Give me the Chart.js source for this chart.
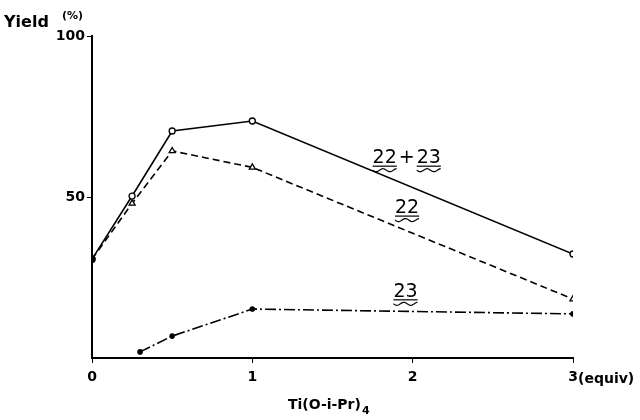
<!DOCTYPE html>
<html>
<head>
<meta charset="utf-8">
<script src="https://cdn.jsdelivr.net/npm/chart.js@4"></script>
<style>
    html, body { margin: 0; padding: 0; background: #fff; }
    #wrap { width: 640px; height: 420px; }
</style>
</head>
<body>
<div id="wrap"><canvas id="chart" width="640" height="420"></canvas></div>
<script>
// equivalents of Ti(O-i-Pr)4 vs yield (%)
const xTotal = [0, 0.25, 0.5, 1, 3];
const yTotal = [30.7, 50.3, 70.5, 73.6, 32.3];      // 22 + 23
const x22 = [0, 0.25, 0.5, 1, 3];
const y22 = [30.7, 48, 64.3, 59.2, 18.3];           // 22
const x23 = [0.3, 0.5, 1, 3];
const y23 = [1.9, 6.8, 15.2, 13.7];                  // 23
const xTicks = [0, 1, 2, 3];
const yTicks = [50, 100];

const font = "'DejaVu Sans', sans-serif";

function pts(xs, ys) {
    return xs.map((x, i) => ({ x: x, y: ys[i] }));
}

// compound labels with the double (straight + wavy) underline
const labels = [
    { parts: ["22", "+", "23"], x: 1.75, y: 60.5 },
    { parts: ["22"], x: 1.89, y: 45 },
    { parts: ["23"], x: 1.88, y: 19 }
];

function wavy(ctx, x0, x1, y) {
    ctx.beginPath();
    ctx.moveTo(x0, y);
    for (let x = x0; x <= x1; x += 1) {
        ctx.lineTo(x, y + 1.5 * Math.sin((x - x0) / 2.2));
    }
    ctx.stroke();
}

const annot = {
    id: "annot",
    afterDraw(c) {
        const ctx = c.ctx;
        const xs = c.scales.x, ys = c.scales.y;
        ctx.save();
        ctx.fillStyle = "#000";
        ctx.strokeStyle = "#000";
        ctx.lineWidth = 1.2;

        // axis title top-left
        ctx.font = "bold 16px " + font;
        ctx.textBaseline = "alphabetic";
        ctx.textAlign = "left";
        ctx.fillText("Yield", 4, 27);
        ctx.font = "bold 11px " + font;
        ctx.fillText("(%)", 62, 19);

        // "(equiv)" after the 3 tick label
        ctx.font = "bold 14px " + font;
        ctx.textBaseline = "middle";
        ctx.fillText("(equiv)", xs.getPixelForValue(3) + 5, 379);

        // x title
        ctx.textAlign = "left";
        ctx.font = "bold 14px " + font;
        ctx.fillText("Ti(O-i-Pr)", 288, 405);
        const w = ctx.measureText("Ti(O-i-Pr)").width;
        ctx.font = "bold 11px " + font;
        ctx.fillText("4", 288 + w + 1, 411);

        // compound labels
        labels.forEach(l => {
            let px = xs.getPixelForValue(l.x);
            const py = ys.getPixelForValue(l.y);
            ctx.font = "19px " + font;
            ctx.textBaseline = "alphabetic";
            l.parts.forEach(p => {
                const tw = ctx.measureText(p).width;
                ctx.fillText(p, px, py);
                if (p !== "+") {
                    ctx.beginPath();
                    ctx.moveTo(px, py + 3);
                    ctx.lineTo(px + tw, py + 3);
                    ctx.stroke();
                    wavy(ctx, px, px + tw, py + 7);
                }
                px += tw + 2;
            });
        });
        ctx.restore();
    }
};

const ctx = document.getElementById("chart").getContext("2d");
const chart = new Chart(ctx, {
    type: "scatter",
    data: {
        datasets: [
            {
                label: "22 + 23",
                data: pts(xTotal, yTotal),
                showLine: true,
                borderColor: "#000",
                borderWidth: 1.6,
                pointStyle: "circle",
                pointRadius: 3,
                pointBackgroundColor: ["#000", "#fff", "#fff", "#fff", "#fff"],
                pointBorderColor: "#000",
                pointBorderWidth: 1.3
            },
            {
                label: "22",
                data: pts(x22, y22),
                showLine: true,
                borderColor: "#000",
                borderWidth: 1.6,
                borderDash: [7, 4],
                pointStyle: ["circle", "triangle", "triangle", "triangle", "triangle"],
                pointRadius: [3, 3.5, 3.5, 3.5, 3.5],
                pointBackgroundColor: ["#000", "#fff", "#fff", "#fff", "#fff"],
                pointBorderColor: "#000",
                pointBorderWidth: 1.3
            },
            {
                label: "23",
                data: pts(x23, y23),
                showLine: true,
                borderColor: "#000",
                borderWidth: 1.6,
                borderDash: [11, 3, 2, 3],
                pointStyle: "circle",
                pointRadius: 2,
                pointBackgroundColor: "#000",
                pointBorderColor: "#000"
            }
        ]
    },
    options: {
        responsive: false,
        animation: false,
        layout: { padding: { top: 36, right: 67, left: 0, bottom: 0 } },
        plugins: {
            legend: { display: false },
            tooltip: { enabled: false }
        },
        scales: {
            x: {
                type: "linear",
                min: 0,
                max: 3,
                afterBuildTicks: s => { s.ticks = xTicks.map(v => ({ value: v })); },
                afterFit: s => { s.height = 62; },
                grid: { display: true, drawOnChartArea: false, drawTicks: true, tickLength: 5, color: "#000" },
                border: { color: "#000", width: 2 },
                ticks: {
                    color: "#000",
                    font: { family: font, size: 14, weight: "bold" },
                    padding: 6,
                    maxRotation: 0
                }
            },
            y: {
                min: 0,
                max: 100,
                afterBuildTicks: s => { s.ticks = yTicks.map(v => ({ value: v })); },
                afterFit: s => { s.width = 92; },
                grid: { display: true, drawOnChartArea: false, drawTicks: true, tickLength: 5, color: "#000" },
                border: { color: "#000", width: 2 },
                ticks: {
                    color: "#000",
                    font: { family: font, size: 14, weight: "bold" },
                    padding: 2
                }
            }
        }
    },
    plugins: [annot]
});
</script>
</body>
</html>
